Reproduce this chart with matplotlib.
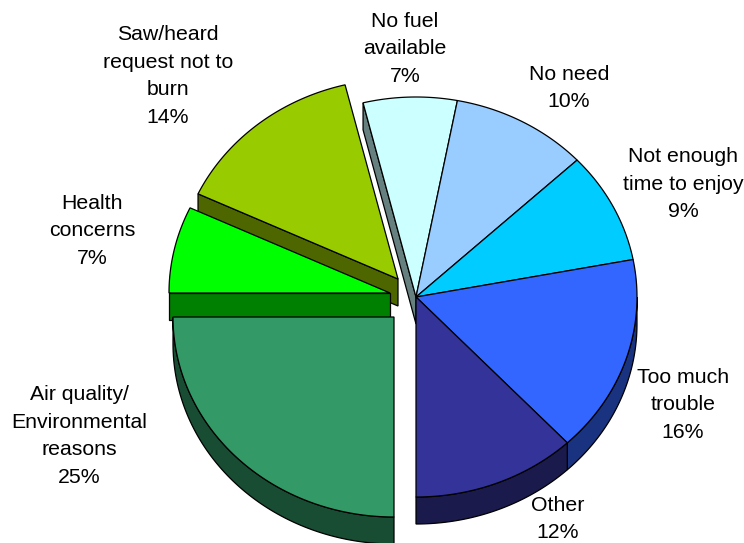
import numpy as np
import matplotlib
matplotlib.use("Agg")
import matplotlib.pyplot as plt

# pie data, clockwise starting from 6 o'clock
categorias = ["Air quality/\nEnvironmental\nreasons", "Health\nconcerns", "Saw/heard\nrequest not to\nburn",
              "No fuel\navailable", "No need", "Not enough\ntime to enjoy", "Too much\ntrouble", "Other"]
valores = [25, 7, 14.15, 6.85, 10, 9, 16, 12]

cores = ["#339966", "#00FF00", "#99CC00", "#CCFFFF", "#99CCFF", "#00CCFF", "#3366FF", "#333399"]
cores_lado = ["#194D33", "#008000", "#4D6600", "#668080", "#4D6680", "#006680", "#1A3380", "#1A1A4D"]

# center offset in pixels for the pulled out slices
explode = [(-22, 20), (-26, -4), (-18, -18), (0, 0), (0, 0), (0, 0), (0, 0), (0, 0)]
pos_rotulos = [(79, 436), (92, 231), (168, 76), (405, 49), (569, 88), (683, 184), (683, 405), (558, 519)]

CX, CY = 416, 297
RX, RY = 221, 200
PROF = 27
INICIO = 180


def ponto(ang, cx, cy):
    a = np.radians(ang)
    return cx + RX * np.sin(a), cy - RY * np.cos(a)


def desenha(ax, xs, ys, cor, z):
    ax.fill(xs, ys, facecolor=cor, edgecolor="black", linewidth=0.9, joinstyle="miter", zorder=z)


fig = plt.figure(figsize=(7.44, 5.43), dpi=100)
ax = fig.add_axes([0, 0, 1, 1])
ax.set_xlim(0, 744)
ax.set_ylim(543, 0)
ax.axis("off")

limites = INICIO + np.cumsum([0] + valores) * 3.6

# back slices first, the pulled out ones go on top in this order
ordem = [3, 4, 5, 6, 7, 2, 1, 0]
z = 1
for i in ordem:
    a0, a1 = limites[i], limites[i + 1]
    cx, cy = CX + explode[i][0], CY + explode[i][1]

    # outer wall, only the part facing the viewer (90 to 270 degrees, one turn later too)
    for volta in (0, 360):
        b0, b1 = max(a0, 90 + volta), min(a1, 270 + volta)
        if b0 < b1:
            t = np.linspace(b0, b1, 80)
            xa, ya = ponto(t, cx, cy)
            desenha(ax, np.r_[xa, xa[::-1]], np.r_[ya, ya[::-1] + PROF], cores_lado[i], z)

    # radial wall for the slices where the cut is exposed
    if i in (1, 2, 3):
        xb, yb = ponto(a0, cx, cy)
        desenha(ax, [cx, xb, xb, cx], [cy, yb, yb + PROF, cy + PROF], cores_lado[i], z)

    # top face
    t = np.linspace(a0, a1, 80)
    xa, ya = ponto(t, cx, cy)
    desenha(ax, np.r_[cx, xa], np.r_[cy, ya], cores[i], z + 0.5)
    z += 1

for nome, v, (x, y) in zip(categorias, valores, pos_rotulos):
    ax.text(x, y, f"{nome}\n{v:.0f}%", ha="center", va="center", multialignment="center",
            family="Liberation Sans", fontsize=15.3, color="black", linespacing=1.56, zorder=50)

fig.savefig("out.png", dpi=100)
plt.close(fig)
